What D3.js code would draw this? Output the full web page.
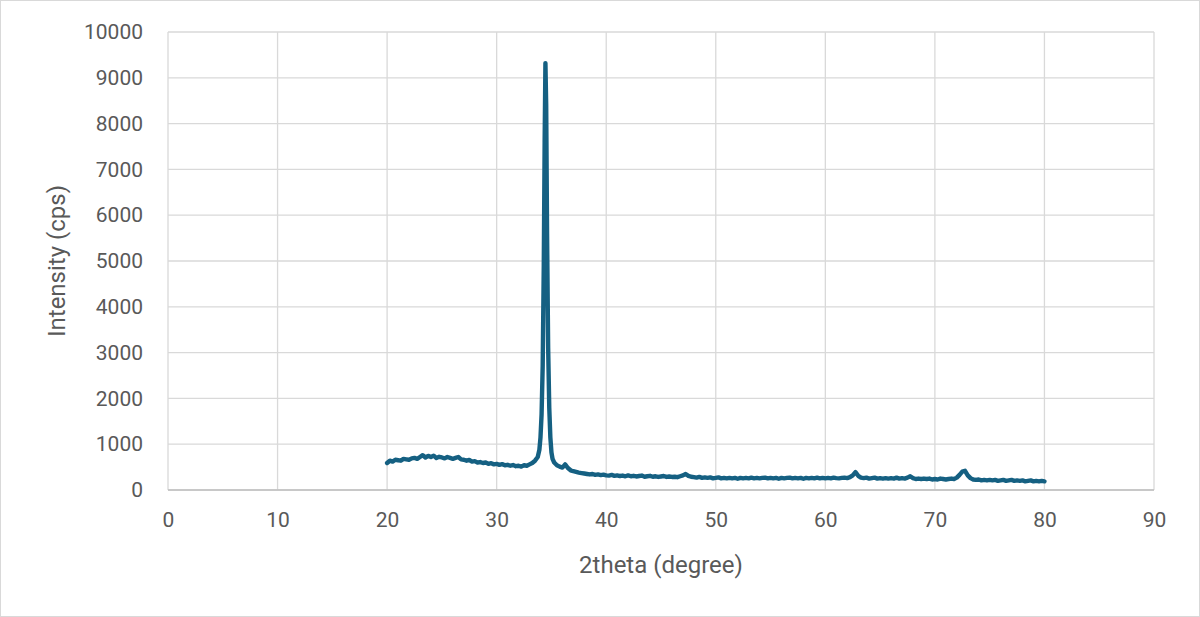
<!DOCTYPE html>
<html>
<head>
<meta charset="utf-8">
<script src="https://cdn.jsdelivr.net/npm/d3@7"></script>
<style>
  body { margin: 0; background: #fff; }
  #XrdPlot { width: 1200px; height: 617px; }
  .grid line { stroke: #d9d9d9; stroke-width: 1.3px; }
  .axis text { fill: #595959; font-family: Roboto, "Liberation Sans", sans-serif; font-size: 21px; }
  .axis path, .axis line { display: none; }
  .title { fill: #595959; font-family: Roboto, "Liberation Sans", sans-serif; font-size: 24px; }
  .curve_xrd { fill: none; stroke: #156082; stroke-width: 4.4px; stroke-linejoin: round; stroke-linecap: round; }
</style>
</head>
<body>
<div id="XrdPlot"></div>
<script>
// scan: 2theta (degree) and intensity (cps)
var twoTheta = [
  20.00, 20.25, 20.50, 20.75, 21.00, 21.25, 21.50, 21.75, 22.00, 22.25, 22.50, 22.75,
  23.00, 23.25, 23.50, 23.75, 24.00, 24.25, 24.50, 24.75, 25.00, 25.25, 25.50, 25.75,
  26.00, 26.25, 26.50, 26.75, 27.00, 27.25, 27.50, 27.75, 28.00, 28.25, 28.50, 28.75,
  29.00, 29.25, 29.50, 29.75, 30.00, 30.25, 30.50, 30.75, 31.00, 31.25, 31.50, 31.75,
  32.00, 32.25, 32.50, 32.75, 33.00, 33.25, 33.50, 33.75, 33.90, 34.00, 34.10, 34.20,
  34.30, 34.38, 34.45, 34.52, 34.60, 34.70, 34.80, 34.90, 35.00, 35.10, 35.25, 35.50,
  35.75, 36.00, 36.25, 36.50, 36.75, 37.00, 37.25, 37.50, 37.75, 38.00, 38.25, 38.50,
  38.75, 39.00, 39.25, 39.50, 39.75, 40.00, 40.25, 40.50, 40.75, 41.00, 41.25, 41.50,
  41.75, 42.00, 42.25, 42.50, 42.75, 43.00, 43.25, 43.50, 43.75, 44.00, 44.25, 44.50,
  44.75, 45.00, 45.25, 45.50, 45.75, 46.00, 46.25, 46.50, 46.75, 47.00, 47.25, 47.50,
  47.75, 48.00, 48.25, 48.50, 48.75, 49.00, 49.25, 49.50, 49.75, 50.00, 50.25, 50.50,
  50.75, 51.00, 51.25, 51.50, 51.75, 52.00, 52.25, 52.50, 52.75, 53.00, 53.25, 53.50,
  53.75, 54.00, 54.25, 54.50, 54.75, 55.00, 55.25, 55.50, 55.75, 56.00, 56.25, 56.50,
  56.75, 57.00, 57.25, 57.50, 57.75, 58.00, 58.25, 58.50, 58.75, 59.00, 59.25, 59.50,
  59.75, 60.00, 60.25, 60.50, 60.75, 61.00, 61.25, 61.50, 61.75, 62.00, 62.25, 62.50,
  62.75, 63.00, 63.25, 63.50, 63.75, 64.00, 64.25, 64.50, 64.75, 65.00, 65.25, 65.50,
  65.75, 66.00, 66.25, 66.50, 66.75, 67.00, 67.25, 67.50, 67.75, 68.00, 68.25, 68.50,
  68.75, 69.00, 69.25, 69.50, 69.75, 70.00, 70.25, 70.50, 70.75, 71.00, 71.25, 71.50,
  71.75, 72.00, 72.25, 72.50, 72.75, 73.00, 73.25, 73.50, 73.75, 74.00, 74.25, 74.50,
  74.75, 75.00, 75.25, 75.50, 75.75, 76.00, 76.25, 76.50, 76.75, 77.00, 77.25, 77.50,
  77.75, 78.00, 78.25, 78.50, 78.75, 79.00, 79.25, 79.50, 79.75, 80.00
];

var intensity = [
   590,  640,  620,  660,  650,  640,  680,  670,  660,  690,  700,  680,
   720,  760,  710,  745,  720,  750,  700,  725,  710,  690,  720,  700,
   680,  700,  720,  670,  660,  640,  655,  620,  630,  600,  610,  590,
   600,  570,  585,  560,  570,  550,  565,  540,  550,  530,  545,  520,
   530,  510,  540,  530,  560,  590,  640,  720,  880, 1150, 1650, 2700,
  4900, 7600, 9320, 8400, 5600, 3100, 1800, 1150,  820,  680,  600,  540,
   510,  490,  560,  480,  430,  410,  395,  380,  370,  360,  350,  340,
   350,  330,  340,  325,  335,  320,  315,  330,  310,  320,  305,  315,
   300,  320,  300,  310,  295,  305,  315,  290,  300,  310,  290,  300,
   285,  295,  305,  285,  295,  285,  290,  280,  300,  320,  350,  310,
   290,  280,  270,  285,  265,  275,  265,  275,  255,  265,  275,  255,
   265,  255,  265,  255,  265,  245,  265,  255,  265,  255,  270,  255,
   265,  255,  265,  270,  255,  265,  255,  265,  245,  265,  255,  265,
   270,  255,  265,  255,  265,  245,  265,  255,  265,  255,  270,  255,
   265,  255,  265,  255,  270,  260,  255,  265,  270,  260,  280,  320,
   390,  310,  270,  260,  270,  250,  260,  270,  250,  260,  250,  260,
   250,  260,  250,  270,  250,  260,  250,  270,  300,  260,  240,  250,
   240,  250,  240,  250,  230,  240,  230,  250,  240,  230,  240,  250,
   240,  270,  330,  400,  420,  320,  260,  230,  220,  230,  210,  220,
   210,  220,  210,  220,  200,  210,  220,  200,  210,  220,  200,  210,
   200,  210,  190,  200,  210,  190,  200,  190,  200,  190
];

var xTicks = [0, 10, 20, 30, 40, 50, 60, 70, 80, 90];
var yTicks = [0, 1000, 2000, 3000, 4000, 5000, 6000, 7000, 8000, 9000, 10000];

XrdPlot();

function XrdPlot() {

var W = 1200, H = 617;
var margin = {top: 32, right: 46, bottom: 127, left: 168},
    width = W - margin.left - margin.right,
    height = H - margin.top - margin.bottom;

var svg = d3.select("#XrdPlot").append("svg").attr("width", W).attr("height", H);

// outer chart border
svg.append("rect")
    .attr("x", 0.5).attr("y", 0.5)
    .attr("width", W - 1).attr("height", H - 1)
    .attr("fill", "#fff")
    .attr("stroke", "#d9d9d9");

var x = d3.scaleLinear().domain([0, 90]).range([0, width]),
    y = d3.scaleLinear().domain([0, 10000]).range([height, 0]);

var data = twoTheta.map(function(t, i) { return {angle: t, cps: intensity[i]}; });

var curve_xrd = d3.line()
    .x(function(d) { return x(d.angle); })
    .y(function(d) { return y(d.cps); });

var focus = svg.append("g")
    .attr("transform", "translate(" + margin.left + "," + margin.top + ")");

// gridlines
focus.append("g").attr("class", "grid")
  .selectAll("line").data(yTicks).enter().append("line")
    .attr("x1", 0).attr("x2", width)
    .attr("y1", function(d) { return y(d); })
    .attr("y2", function(d) { return y(d); });

focus.append("g").attr("class", "grid")
  .selectAll("line").data(xTicks).enter().append("line")
    .attr("y1", 0).attr("y2", height)
    .attr("x1", function(d) { return x(d); })
    .attr("x2", function(d) { return x(d); });

focus.append("line")
    .attr("x1", 0).attr("x2", width)
    .attr("y1", height).attr("y2", height)
    .attr("stroke", "#bfbfbf").attr("stroke-width", 1.5);

focus.append("g")
    .attr("class", "axis axis--x")
    .attr("transform", "translate(0," + height + ")")
    .call(d3.axisBottom(x).tickValues(xTicks).tickFormat(d3.format("d")).tickSize(0).tickPadding(22));

focus.append("g")
    .attr("class", "axis axis--y")
    .call(d3.axisLeft(y).tickValues(yTicks).tickFormat(d3.format("d")).tickSize(0).tickPadding(25));

focus.append("path")
    .datum(data)
    .attr("class", "curve_xrd")
    .attr("d", curve_xrd);

svg.append("text")
    .attr("class", "title")
    .attr("x", margin.left + width / 2)
    .attr("y", 573)
    .attr("text-anchor", "middle")
    .text("2theta (degree)");

svg.append("text")
    .attr("class", "title")
    .attr("transform", "translate(65," + (margin.top + height / 2) + ") rotate(-90)")
    .attr("text-anchor", "middle")
    .text("Intensity (cps)");

}
</script>
</body>
</html>
